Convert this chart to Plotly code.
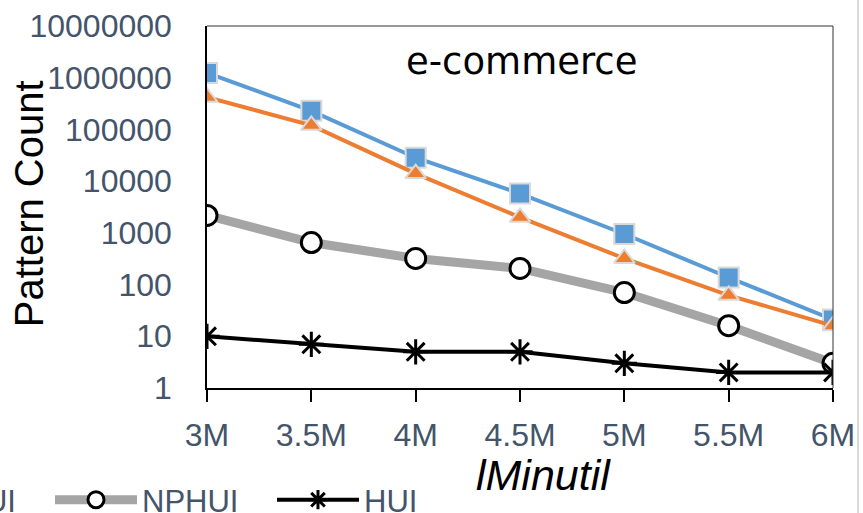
import plotly.graph_objects as go

# Minimum utility thresholds on the x axis
thresholds = ["3M", "3.5M", "4M", "4.5M", "5M", "5.5M", "6M"]

# Pattern counts per algorithm
fhn = [1240000, 229000, 28400, 5760, 950, 137, 21]
ghui = [420000, 120000, 14000, 2000, 320, 62, 16]
nphui = [2170, 650, 320, 205, 70, 16, 3]
hui = [10, 7, 5, 5, 3, 2, 2]

ytick_vals = [1, 10, 100, 1000, 10000, 100000, 1000000, 10000000]
ytick_text = [str(v) for v in ytick_vals]

tick_color = "#44546A"
tick_font = dict(family="Liberation Sans", size=32, color=tick_color)
legend_font = dict(family="Liberation Sans", size=31, color=tick_color)

fig = go.Figure()
fig.add_trace(go.Scatter(
    x=thresholds, y=fhn, name="FHN", mode="lines+markers", legend="legend3",
    line=dict(color="#5B9BD5", width=4),
    marker=dict(symbol="square", size=20, color="#5B9BD5",
                line=dict(color="#D9D9D9", width=2)),
))
fig.add_trace(go.Scatter(
    x=thresholds, y=ghui, name="GHUI", mode="lines+markers", legend="legend2",
    line=dict(color="#ED7D31", width=4),
    marker=dict(symbol="triangle-up", size=18, color="#ED7D31",
                line=dict(color="#D9D9D9", width=2)),
))
fig.add_trace(go.Scatter(
    x=thresholds, y=nphui, name="NPHUI", mode="lines+markers", legend="legend",
    line=dict(color="#A5A5A5", width=9),
    marker=dict(symbol="circle", size=20, color="white",
                line=dict(color="black", width=3)),
))
fig.add_trace(go.Scatter(
    x=thresholds, y=hui, name="HUI", mode="lines+markers", legend="legend",
    line=dict(color="black", width=4),
    marker=dict(symbol="asterisk-open", size=21, color="black",
                line=dict(color="black", width=3)),
))

legend_common = dict(
    orientation="h", xanchor="left", y=-0.3095, yanchor="middle",
    font=legend_font, itemwidth=82, bgcolor="rgba(0,0,0,0)",
)

fig.update_layout(
    width=863, height=513,
    margin=dict(l=207, r=30, t=26, b=125, autoexpand=False),
    paper_bgcolor="white", plot_bgcolor="white",
    showlegend=True,
    legend=dict(x=-0.2508, entrywidth=125, **legend_common),
    legend2=dict(x=-0.576, **legend_common),
    legend3=dict(x=-0.95, **legend_common),
    xaxis=dict(
        type="category", range=[0, 6],
        showline=True, linecolor="black", linewidth=2,
        ticks="outside", ticklen=12, tickwidth=2, tickcolor="black",
        tickfont=tick_font, showgrid=False, zeroline=False,
        ticklabelstandoff=6,
    ),
    yaxis=dict(
        type="log", range=[0, 7],
        tickvals=ytick_vals, ticktext=ytick_text,
        showline=True, linecolor="black", linewidth=1.5,
        ticks="", tickfont=tick_font, showgrid=False, zeroline=False,
        ticklabelstandoff=27,
    ),
    shapes=[
        # plot frame (top and right edges)
        dict(type="line", xref="paper", yref="paper", x0=0, x1=1, y0=1, y1=1,
             line=dict(color="#333333", width=1)),
        dict(type="line", xref="paper", yref="paper", x0=1, x1=1, y0=0, y1=1,
             line=dict(color="#333333", width=1)),
        # chart area edge on the right
        dict(type="line", xref="paper", yref="paper", x0=1.04, x1=1.04, y0=-0.35, y1=1.08,
             line=dict(color="#D9D9D9", width=2)),
    ],
    annotations=[
        dict(text="e-commerce", xref="paper", yref="paper", x=0.502, y=0.903,
             xanchor="center", yanchor="middle", showarrow=False,
             font=dict(family="DejaVu Sans", size=37, color="black")),
        dict(text="Pattern Count", xref="paper", yref="paper", x=-0.283, y=0.51,
             xanchor="center", yanchor="middle", textangle=-90, showarrow=False,
             font=dict(family="Liberation Sans", size=40, color="black")),
        dict(text="<i>lMinutil</i>", xref="paper", yref="paper", x=0.538, y=-0.24,
             xanchor="center", yanchor="middle", showarrow=False,
             font=dict(family="Liberation Sans", size=43, color="black")),
    ],
)

fig.write_html("out.html")
